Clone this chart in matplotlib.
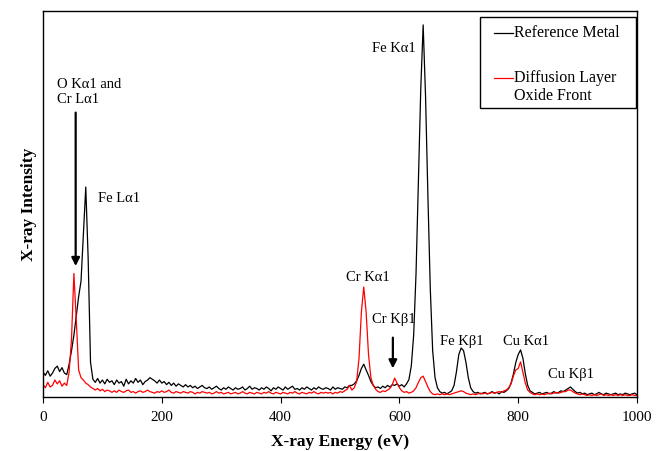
import numpy as np
import matplotlib
matplotlib.use("Agg")
import matplotlib.pyplot as plt
from matplotlib.patches import Rectangle

plt.rcParams['font.family'] = ['Liberation Serif', 'DejaVu Serif']

# energy grid (eV), 4 eV steps
energy = np.arange(0, 1001, 4)

# Reference Metal (black), arbitrary intensity units (0-100)
reference_metal = [
    6.5, 5.6, 6.8, 5.4, 6.2, 7.4, 8.0, 6.6, 7.6, 6.2,
    5.8, 8.5, 12, 16, 21, 26, 30, 42, 54.4, 36,
    9.0, 4.6, 3.8, 4.8, 3.6, 4.4, 3.4, 4.6, 3.8, 4.2,
    3.2, 4.4, 3.6, 4.0, 2.8, 4.6, 3.4, 4.2, 3.6, 4.8,
    3.8, 4.4, 3.2, 4.0, 4.4, 5.0, 4.6, 4.2, 3.6, 4.4,
    3.6, 4.0, 3.2, 3.8, 3.0, 3.6, 2.8, 3.4, 3.0, 2.6,
    3.2, 2.6, 3.0, 2.4, 2.8, 2.2, 2.6, 3.0, 2.4, 2.2,
    2.6, 2.0, 2.4, 2.8, 2.2, 1.8, 2.4, 2.0, 2.6, 2.2,
    1.8, 2.4, 2.0, 2.2, 2.6, 1.8, 2.2, 2.8, 2.0, 2.4,
    2.2, 1.8, 2.4, 2.0, 2.6, 2.2, 1.6, 2.4, 2.0, 2.6,
    2.2, 1.8, 2.6, 2.0, 2.4, 2.8, 2.0, 2.2, 1.8, 2.4,
    2.0, 2.6, 2.2, 1.8, 2.4, 2.0, 2.6, 2.2, 2.0, 2.4,
    2.2, 1.8, 2.6, 2.0, 2.4, 2.2, 2.0, 2.6, 2.4, 3.0,
    3.0, 3.4, 4.2, 5.6, 7.4, 8.5, 7.0, 5.6, 4.0, 3.0,
    2.4, 2.6, 2.2, 2.8, 2.4, 3.0, 2.6, 3.2, 3.0, 3.4,
    2.8, 3.2, 2.6, 3.4, 4.5, 8.0, 16, 32, 56, 80,
    96.4, 78, 52, 28, 12, 5.0, 2.4, 1.4, 1.0, 1.2,
    0.8, 1.2, 1.6, 3.0, 6.5, 11, 12.7, 12.0, 9.0, 5.0,
    2.4, 1.4, 1.0, 1.2, 0.8, 1.0, 1.2, 0.8, 1.0, 1.4,
    1.0, 1.2, 0.8, 1.4, 1.2, 1.6, 2.2, 3.6, 6.0, 9.0,
    11, 12.2, 10, 6.0, 3.0, 1.6, 1.2, 0.8, 1.0, 1.2,
    0.8, 1.0, 1.2, 0.8, 1.0, 1.4, 1.0, 1.2, 1.6, 1.4,
    1.8, 2.2, 2.6, 2.0, 1.4, 1.0, 1.2, 0.8, 1.0, 0.6,
    0.8, 1.0, 0.6, 0.8, 1.2, 0.8, 0.6, 1.0, 0.8, 0.6,
    0.8, 1.0, 0.6, 0.8, 0.6, 1.0, 0.8, 0.6, 0.8, 1.0,
    0.6,
]

# Diffusion Layer Oxide Front (red)
oxide_front = [
    3.2, 2.4, 3.8, 2.6, 3.0, 4.4, 3.4, 4.2, 2.8, 3.6,
    3.0, 6.5, 15, 32, 20, 7.0, 5.0, 4.4, 3.6, 3.2,
    2.6, 2.2, 1.8, 2.2, 1.6, 2.0, 1.4, 1.8, 1.6, 1.2,
    1.6, 1.2, 1.8, 1.4, 1.2, 1.6, 1.8, 1.2, 1.4, 1.0,
    1.4, 1.6, 1.2, 1.4, 1.8, 1.4, 1.2, 1.0, 1.4, 1.2,
    1.6, 1.2, 1.4, 1.8, 1.2, 1.0, 1.4, 1.2, 1.0, 1.4,
    1.2, 1.0, 1.4, 1.2, 0.8, 1.2, 1.0, 1.4, 1.2, 1.0,
    1.2, 0.8, 1.0, 1.4, 1.0, 1.2, 0.8, 1.0, 1.2, 0.8,
    1.0, 1.2, 0.8, 1.0, 1.4, 1.0, 0.8, 1.2, 1.0, 0.8,
    1.2, 1.0, 0.8, 1.2, 1.0, 1.4, 1.0, 0.8, 1.2, 1.0,
    0.8, 1.2, 1.0, 0.8, 1.2, 1.0, 1.4, 1.0, 0.8, 1.2,
    1.0, 0.8, 1.2, 1.0, 1.4, 1.0, 0.8, 1.2, 1.0, 1.2,
    1.0, 1.2, 0.8, 1.2, 1.0, 1.4, 1.2, 1.6, 2.0, 3.0,
    1.8, 2.4, 4.0, 10, 22, 28.5, 22, 11, 5.0, 3.0,
    2.0, 1.4, 1.2, 1.6, 1.4, 1.8, 2.2, 3.2, 4.9, 3.6,
    2.4, 1.6, 1.2, 1.4, 1.0, 1.2, 1.6, 2.4, 3.8, 5.0,
    5.4, 4.0, 2.6, 1.4, 0.8, 0.6, 0.8, 0.6, 0.8, 0.6,
    0.8, 0.6, 0.8, 1.0, 1.2, 1.4, 1.6, 1.4, 1.0, 0.8,
    0.6, 0.8, 0.6, 0.8, 1.0, 0.8, 1.0, 0.8, 1.0, 1.2,
    1.0, 1.2, 1.4, 1.2, 1.6, 1.8, 2.4, 3.4, 5.5, 7.0,
    7.4, 9.1, 6.4, 3.6, 1.8, 1.2, 0.8, 0.6, 0.8, 0.6,
    0.8, 0.6, 0.8, 1.0, 0.8, 1.0, 1.2, 1.0, 1.2, 1.4,
    1.4, 1.8, 1.8, 1.4, 1.0, 0.8, 0.6, 0.8, 0.6, 0.4,
    0.6, 0.4, 0.6, 0.4, 0.6, 0.8, 0.4, 0.6, 0.4, 0.6,
    0.4, 0.6, 0.4, 0.6, 0.4, 0.6, 0.4, 0.4, 0.6, 0.4,
    0.4,
]

x_ticks = [0, 200, 400, 600, 800, 1000]

# peak labels: text, left x, y
peak_labels = [
    ("O K\u03b11 and\nCr L\u03b11", 24, 79.0),
    ("Fe L\u03b11", 92, 51.5),
    ("Fe K\u03b11", 554, 90.2),
    ("Cr K\u03b11", 510, 31),
    ("Cr K\u03b21", 554, 20.2),
    ("Fe K\u03b21", 668, 14.5),
    ("Cu K\u03b11", 774, 14.5),
    ("Cu K\u03b21", 850, 5.7),
]

series_names = ["Reference Metal", "Diffusion Layer\nOxide Front"]
series_colors = ["black", "red"]

fig = plt.figure(figsize=(6.66, 4.51), dpi=100)
ax = fig.add_axes([43 / 666, 54 / 451, 594 / 666, 386 / 451])

ax.plot(energy, reference_metal, color=series_colors[0], lw=0.9)
ax.plot(energy, oxide_front, color=series_colors[1], lw=0.9)

ax.set_xlim(0, 1000)
ax.set_ylim(0, 100)
ax.set_xticks(x_ticks)
ax.set_yticks([])
ax.tick_params(axis="x", direction="out", length=4, pad=6, labelsize=11)
for s in ax.spines.values():
    s.set_linewidth(1.0)

ax.set_xlabel("X-ray Energy (eV)", fontsize=12.5, fontweight="bold", labelpad=7)
ax.set_ylabel("X-ray Intensity", fontsize=12.5, fontweight="bold", labelpad=4)

for txt, x, y in peak_labels:
    ax.text(x, y, txt, fontsize=10.5, ha="left", va="center", linespacing=1.25)

# arrows
arrow_style = dict(arrowstyle="-|>", color="black", lw=1.6, mutation_scale=12)
ax.annotate("", xy=(55, 33.2), xytext=(55, 74.4), arrowprops=arrow_style)
ax.annotate("", xy=(589, 6.7), xytext=(589, 16.1), arrowprops=arrow_style)

# legend box drawn by hand (axes fractions)
ax.add_patch(Rectangle((0.7357, 0.7487), 0.2626, 0.2358, transform=ax.transAxes,
                       facecolor="white", edgecolor="black", lw=1.0, zorder=5))
legend_rows = [0.943, 0.8264]
text_rows = [0.943, 0.803]
for name, col, yl, yt in zip(series_names, series_colors, legend_rows, text_rows):
    ax.plot([0.7593, 0.7912], [yl, yl], color=col, lw=0.9, transform=ax.transAxes, zorder=6)
    ax.text(0.7925, yt, name, fontsize=11.5, ha="left", va="center",
            linespacing=1.15, transform=ax.transAxes, zorder=6)

fig.savefig("out.png", dpi=100)
